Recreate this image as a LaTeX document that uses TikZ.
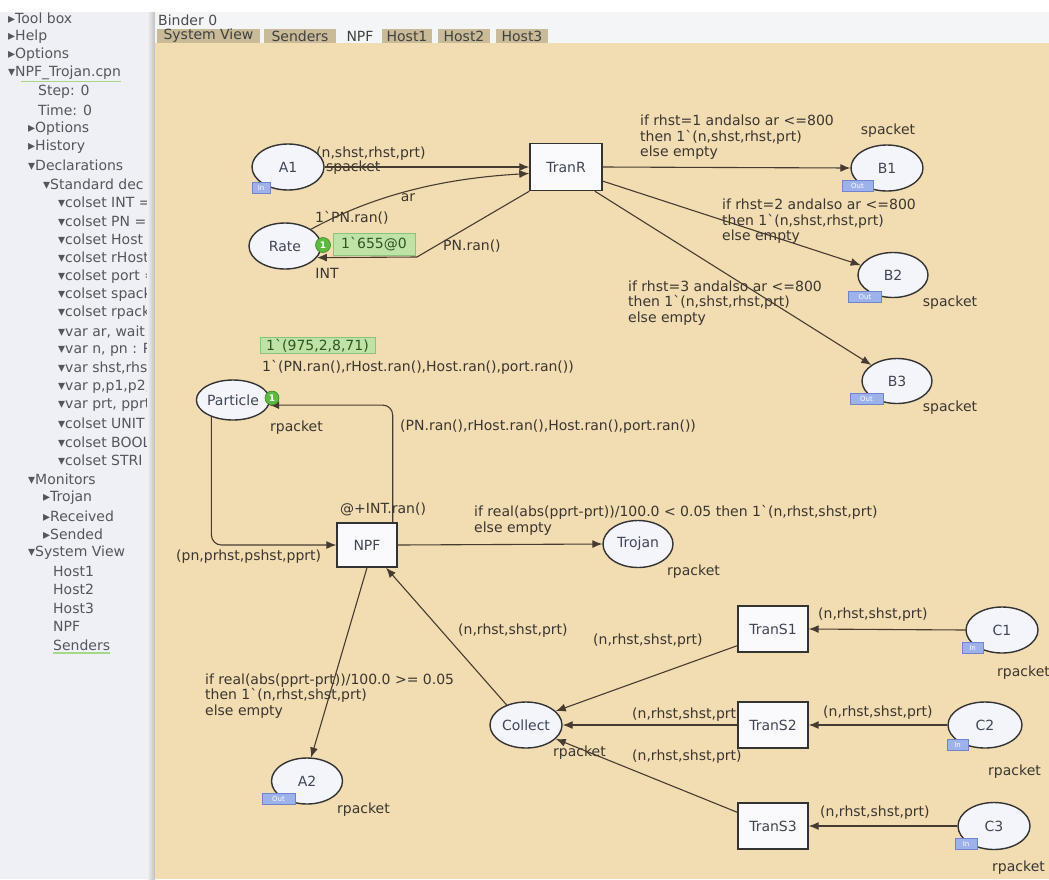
\documentclass[tikz,border=0pt]{standalone}
\usepackage{fontspec}
\setmainfont{DejaVu Sans}[Ligatures=TeXOff]
\usetikzlibrary{shapes.geometric,arrows.meta}
\definecolor{canvas}{HTML}{F2DCB2}
\definecolor{panelbg}{HTML}{EFEFF6}
\definecolor{ptext}{HTML}{55555F}
\definecolor{ltext}{HTML}{3A3630}
\definecolor{arcc}{HTML}{463B30}
\definecolor{placefill}{HTML}{F3F5FB}
\definecolor{transfill}{HTML}{FAFAFC}
\definecolor{nodetext}{HTML}{404654}
\definecolor{tagfill}{HTML}{9DB1EA}
\definecolor{tagdraw}{HTML}{6F84CC}
\definecolor{tokfill}{HTML}{5DBB3F}
\definecolor{markfill}{HTML}{BFE3A6}
\definecolor{markdraw}{HTML}{8DC27A}
\definecolor{marktext}{HTML}{2E5522}
\definecolor{tabfill}{HTML}{C9BA98}
\definecolor{barbg}{HTML}{F4F5F7}
\definecolor{uline}{HTML}{A6D886}
\newcommand\cpnsize{\fontsize{14}{15.6}\selectfont}
\begin{document}
\begin{tikzpicture}[x=1pt,y=-1pt,
  lbl/.style={anchor=west,inner sep=0pt,font=\cpnsize,text=ltext,align=left},
  pitem/.style={anchor=west,inner sep=0pt,font=\cpnsize,text=ptext},
  place/.style={ellipse,draw=black!80,line width=1.4pt,fill=placefill,minimum width=72pt,minimum height=46pt,inner sep=0pt,font=\cpnsize,text=nodetext},
  trans/.style={rectangle,draw=black!80,line width=1.4pt,fill=transfill,minimum width=70pt,minimum height=46pt,inner sep=0pt,font=\cpnsize,text=nodetext},
  arc/.style={draw=arcc,line width=1.1pt,-{Latex[length=10pt,width=8pt]}},
  tag/.style={rectangle,fill=tagfill,draw=tagdraw,line width=0.6pt,inner sep=0pt,minimum height=11pt,font=\fontsize{7}{7}\selectfont,text=white},
  token/.style={circle,fill=tokfill,draw=tokfill!70!black,line width=0.6pt,minimum size=15pt,inner sep=0pt,font=\fontsize{9}{9}\selectfont\bfseries,text=white},
  marking/.style={rectangle,fill=markfill,draw=markdraw,line width=1pt,inner sep=0pt,font=\cpnsize,text=marktext},
  tab/.style={rectangle,fill=tabfill,inner sep=0pt,minimum height=14pt,font=\cpnsize,text=black!75}
]
\useasboundingbox (0,0) rectangle (1049,879);

% window background, index panel, binder bar and page canvas
\fill[white] (0,0) rectangle (1049,879);
\fill[panelbg] (0,12) rectangle (147,879);
\shade[left color=gray!10,right color=gray!50] (147,12) rectangle (155,879);
\fill[barbg] (155,12) rectangle (1049,43);
\fill[canvas] (155,43) rectangle (1049,879);

% index panel
\begin{scope}
\clip (0,12) rectangle (146,879);
\node[pitem] (p0) at (8,18) {▸Tool box};
\node[pitem] (p1) at (8,36.4) {▸Help};
\node[pitem] (p2) at (8,54.9) {▸Options};
\node[pitem] (p3) at (8,73.3) {▾NPF\_Trojan.cpn};
\node[pitem] (p4) at (38,91.8) {Step: 0};
\node[pitem] (p5) at (38,110.2) {Time: 0};
\node[pitem] (p6) at (28,128.6) {▸Options};
\node[pitem] (p7) at (28,147.1) {▸History};
\node[pitem] (p8) at (28,165.5) {▾Declarations};
\node[pitem] (p9) at (43,184) {▾Standard dec};
\node[pitem] (p10) at (58,202.4) {▾colset INT =};
\node[pitem] (p11) at (58,220.8) {▾colset PN =};
\node[pitem] (p12) at (58,239.3) {▾colset Host};
\node[pitem] (p13) at (58,257.7) {▾colset rHost};
\node[pitem] (p14) at (58,276.2) {▾colset port =};
\node[pitem] (p15) at (58,294.6) {▾colset spack};
\node[pitem] (p16) at (58,313) {▾colset rpack};
\node[pitem] (p17) at (58,331.5) {▾var ar, wait};
\node[pitem] (p18) at (58,349.9) {▾var n, pn : P};
\node[pitem] (p19) at (58,368.4) {▾var shst,rhs};
\node[pitem] (p20) at (58,386.8) {▾var p,p1,p2,};
\node[pitem] (p21) at (58,405.2) {▾var prt, pprt};
\node[pitem] (p22) at (58,423.7) {▾colset UNIT};
\node[pitem] (p23) at (58,442.1) {▾colset BOOL};
\node[pitem] (p24) at (58,460.6) {▾colset STRI};
\node[pitem] (p25) at (28,479) {▾Monitors};
\node[pitem] (p26) at (43,497.4) {▸Trojan};
\node[pitem] (p27) at (43,515.9) {▸Received};
\node[pitem] (p28) at (43,534.3) {▸Sended};
\node[pitem] (p29) at (28,552.8) {▾System View};
\node[pitem] (p30) at (53,571.2) {Host1};
\node[pitem] (p31) at (53,589.6) {Host2};
\node[pitem] (p32) at (53,608.1) {Host3};
\node[pitem] (p33) at (53,626.5) {NPF};
\node[pitem] (p34) at (53,645) {Senders};
\end{scope}
\draw[uline,line width=1.6pt] ([xshift=13pt,yshift=-8pt]p3.west) -- ([yshift=-8pt]p3.east);
\draw[uline,line width=1.6pt] ([yshift=-8pt]p34.west) -- ([yshift=-8pt]p34.east);

% binder title and page tabs
\node[pitem,text=black!70] (binder) at (158,20) {Binder 0};
\node[tab,minimum width=103pt] (tab1) at (208.5,36) {System View};
\node[tab,minimum width=72pt] (tab2) at (300,36) {Senders};
\node[tab,fill=barbg,minimum width=32pt] (tab3) at (360,36) {NPF};
\node[tab,minimum width=50pt] (tab4) at (407,36) {Host1};
\node[tab,minimum width=52pt] (tab5) at (464,36) {Host2};
\node[tab,minimum width=52pt] (tab6) at (522,36) {Host3};

% inscriptions
\node[lbl] (eA1) at (316,154) {(n,shst,rhst,prt)};
\node[lbl] (csA1) at (326,168) {spacket};
\node[lbl,anchor=center] (eAr) at (408,198) {ar};
\node[lbl] (imRate) at (315,218) {1`PN.ran()};
\node[lbl,anchor=center] (csRate) at (327,273) {INT};
\node[lbl] (eRate) at (443,246) {PN.ran()};
\node[lbl] (eB1) at (640,137.5) {if rhst=1 andalso ar <=800\\then 1`(n,shst,rhst,prt)\\else empty};
\node[lbl,anchor=center] (csB1) at (888,131) {spacket};
\node[lbl] (eB2) at (722,221.5) {if rhst=2 andalso ar <=800\\then 1`(n,shst,rhst,prt)\\else empty};
\node[lbl,anchor=center] (csB2) at (950,303) {spacket};
\node[lbl] (eB3) at (628,303) {if rhst=3 andalso ar <=800\\then 1`(n,shst,rhst,prt)\\else empty};
\node[lbl,anchor=center] (csB3) at (950,408) {spacket};
\node[lbl] (imPart) at (262,367) {1`(PN.ran(),rHost.ran(),Host.ran(),port.ran())};
\node[lbl] (csPart) at (270,428) {rpacket};
\node[lbl] (ePartOut) at (400,427) {(PN.ran(),rHost.ran(),Host.ran(),port.ran())};
\node[lbl] (tNPF) at (340,509) {@+INT.ran()};
\node[lbl] (eTroj) at (474,520.5) {if real(abs(pprt-prt))/100.0 < 0.05 then 1`(n,rhst,shst,prt)\\else empty};
\node[lbl] (ePartIn) at (176,557) {(pn,prhst,pshst,pprt)};
\node[lbl] (csTroj) at (667,572) {rpacket};
\node[lbl] (eA2) at (205,696) {if real(abs(pprt-prt))/100.0 >= 0.05\\then 1`(n,rhst,shst,prt)\\else empty};
\node[lbl] (csA2) at (337,810) {rpacket};
\node[lbl] (csColl) at (553,753) {rpacket};
\node[lbl] (eColl) at (458,631) {(n,rhst,shst,prt)};
\node[lbl] (eS1) at (593,641) {(n,rhst,shst,prt)};
\node[lbl] (eS2) at (632,715) {(n,rhst,shst,prt)};
\node[lbl] (eS3) at (632,757) {(n,rhst,shst,prt)};
\node[lbl] (eC1) at (818,615) {(n,rhst,shst,prt)};
\node[lbl] (eC2) at (823,713) {(n,rhst,shst,prt)};
\node[lbl] (eC3) at (820,813) {(n,rhst,shst,prt)};
\node[lbl] (csC1) at (997,673) {rpacket};
\node[lbl] (csC2) at (988,772) {rpacket};
\node[lbl] (csC3) at (992,868) {rpacket};

% places and transitions
\node[place] (A1) at (288,167) {A1};
\node[place] (Rate) at (285,246) {Rate};
\node[trans,minimum width=72pt,minimum height=47pt] (TranR) at (566,167) {TranR};
\node[place] (B1) at (887,168) {B1};
\node[place,minimum width=70pt,minimum height=45pt] (B2) at (893,275) {B2};
\node[place,minimum width=70pt,minimum height=45pt] (B3) at (897,381) {B3};
\node[place,minimum width=73pt,minimum height=40pt] (Particle) at (233,400) {Particle};
\node[trans,minimum width=60pt,minimum height=44pt] (NPF) at (367,545) {NPF};
\node[place,minimum width=70pt,minimum height=47pt] (Trojan) at (638,544) {Trojan};
\node[place,minimum width=71pt] (A2) at (307,781) {A2};
\node[place] (Collect) at (526,725) {Collect};
\node[trans] (TranS1) at (773,629) {TranS1};
\node[trans] (TranS2) at (773,725) {TranS2};
\node[trans] (TranS3) at (773,826) {TranS3};
\node[place] (C1) at (1002,630) {C1};
\node[place,minimum width=74pt] (C2) at (985,725) {C2};
\node[place,minimum height=47pt] (C3) at (994,826) {C3};

% arcs
\draw[arc] (A1.east) -- (TranR.west);
\draw[arc] (Rate.north east) .. controls (380,192) and (450,178) .. (TranR.190);
\draw[arc] (TranR.south west) -- (417,257) -- (Rate.-20);
\draw[arc] (TranR.east) -- (B1.west);
\draw[arc] (TranR.-21) -- (B2.163);
\draw[arc] (TranR.-40) -- (B3.148);
\draw[arc,rounded corners=10pt] (Particle.218) |- (NPF.west);
\draw[arc,rounded corners=10pt] ([xshift=-5pt]NPF.north east) |- (Particle.-8);
\draw[arc] (NPF.east) -- (Trojan.west);
\draw[arc] (NPF.south) -- (A2.80);
\draw[arc] (Collect.134) -- (NPF.-50);
\draw[arc] (TranS1.205) -- (Collect.25);
\draw[arc] (TranS2.west) -- (Collect.east);
\draw[arc] (TranS3.159) -- (Collect.-25);
\draw[arc] (C1.west) -- (TranS1.east);
\draw[arc] (C2.west) -- (TranS2.east);
\draw[arc] (C3.west) -- (TranS3.east);

% port tags
\node[tag,minimum width=18pt] (tagA1) at (261,187.5) {In};
\node[tag,minimum width=31pt] (tagB1) at (857.5,186) {Out};
\node[tag,minimum width=33pt] (tagB2) at (865,296.5) {Out};
\node[tag,minimum width=33pt] (tagB3) at (866.5,399) {Out};
\node[tag,minimum width=33pt] (tagA2) at (278.5,798.5) {Out};
\node[tag,minimum width=21pt] (tagC1) at (972.5,647.5) {In};
\node[tag,minimum width=21pt] (tagC2) at (957.5,745) {In};
\node[tag,minimum width=22pt] (tagC3) at (966,843.5) {In};

% current markings
\node[marking,minimum width=82pt,minimum height=22pt] (mRate) at (374,244) {1`655@0};
\node[token] (tokRate) at (323,245) {1};
\node[marking,minimum width=115pt,minimum height=16pt] (mPart) at (317.5,345.5) {1`(975,2,8,71)};
\node[token,minimum size=14pt] (tokPart) at (272,398) {1};
\end{tikzpicture}
\end{document}
